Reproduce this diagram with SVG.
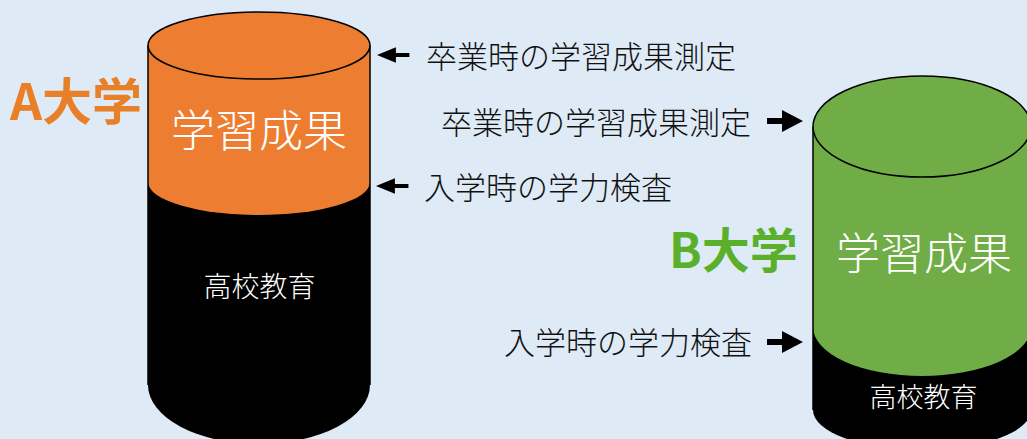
<svg xmlns="http://www.w3.org/2000/svg" width="1027" height="439" viewBox="0 0 1027 439">
<style>
  .jp { font-family: "Noto Sans CJK JP", "Noto Sans", sans-serif; font-weight: 300; }
  .lbl { font-size: 31px; fill: #111; dominant-baseline: central; }
  .inner { fill: #fff; text-anchor: middle; dominant-baseline: central; }
  .uni { font-family: "Noto Sans CJK JP", "Noto Sans", sans-serif; font-weight: 700; }
  .edge { fill: none; stroke: #000; stroke-width: 1.5; }
  .arrow { fill: #000; }
</style>
<defs>
  <polygon id="arr" points="0,0 -21,-11 -21,-3 -36,-3 -36,3 -21,3 -21,11"/>
</defs>
<rect x="0" y="0" width="1027" height="439" fill="#deeaf6"/>

<g id="cylinder-a">
  <path d="M148,182 L148,385 A111,59 0 0 0 370,385 L370,182 Z" fill="#000"/>
  <path d="M148,45.5 L148,182 A111,33 0 0 0 370,182 L370,45.5 Z" fill="#ed7d31"/>
  <line class="edge" x1="148" y1="45.5" x2="148" y2="385"/>
  <line class="edge" x1="370" y1="45.5" x2="370" y2="385"/>
  <ellipse cx="259" cy="45.5" rx="111" ry="33.5" fill="#ed7d31" stroke="#000" stroke-width="1.5"/>
  <text class="jp inner" x="259" y="128" font-size="44">学習成果</text>
  <text class="jp inner" x="259.5" y="285" font-size="28">高校教育</text>
</g>

<g id="cylinder-b">
  <path d="M813,327 L813,410 A109,40 0 0 0 1031,410 L1031,327 Z" fill="#000"/>
  <path d="M813,126.5 L813,327 A109,49 0 0 0 1031,327 L1031,126.5 Z" fill="#70ad47"/>
  <line class="edge" x1="813" y1="126.5" x2="813" y2="410"/>
  <ellipse cx="922" cy="126.5" rx="109" ry="50.5" fill="#70ad47" stroke="#000" stroke-width="1.5"/>
  <text class="jp inner" x="924" y="251" font-size="44">学習成果</text>
  <text class="jp inner" x="923.5" y="395.5" font-size="27">高校教育</text>
</g>

<g id="title-a">
  <text class="uni" x="10" y="120" font-size="50" fill="#e97f26">A大学</text>
</g>
<g id="title-b">
  <text class="uni" x="669" y="268" font-size="48" fill="#5ab02b">B大学</text>
</g>

<g id="labels">
  <text class="jp lbl" x="426" y="54.5">卒業時の学習成果測定</text>
  <text class="jp lbl" x="441" y="120">卒業時の学習成果測定</text>
  <text class="jp lbl" x="424" y="185">入学時の学力検査</text>
  <text class="jp lbl" x="504" y="340">入学時の学力検査</text>
</g>

<g id="connectors">
  <use href="#arr" class="arrow" transform="translate(377,55) scale(-0.9,0.7)"/>
  <use href="#arr" class="arrow" transform="translate(376,186) scale(-0.9,0.7)"/>
  <use href="#arr" class="arrow" transform="translate(803,121)"/>
  <use href="#arr" class="arrow" transform="translate(803,342)"/>
</g>
</svg>
